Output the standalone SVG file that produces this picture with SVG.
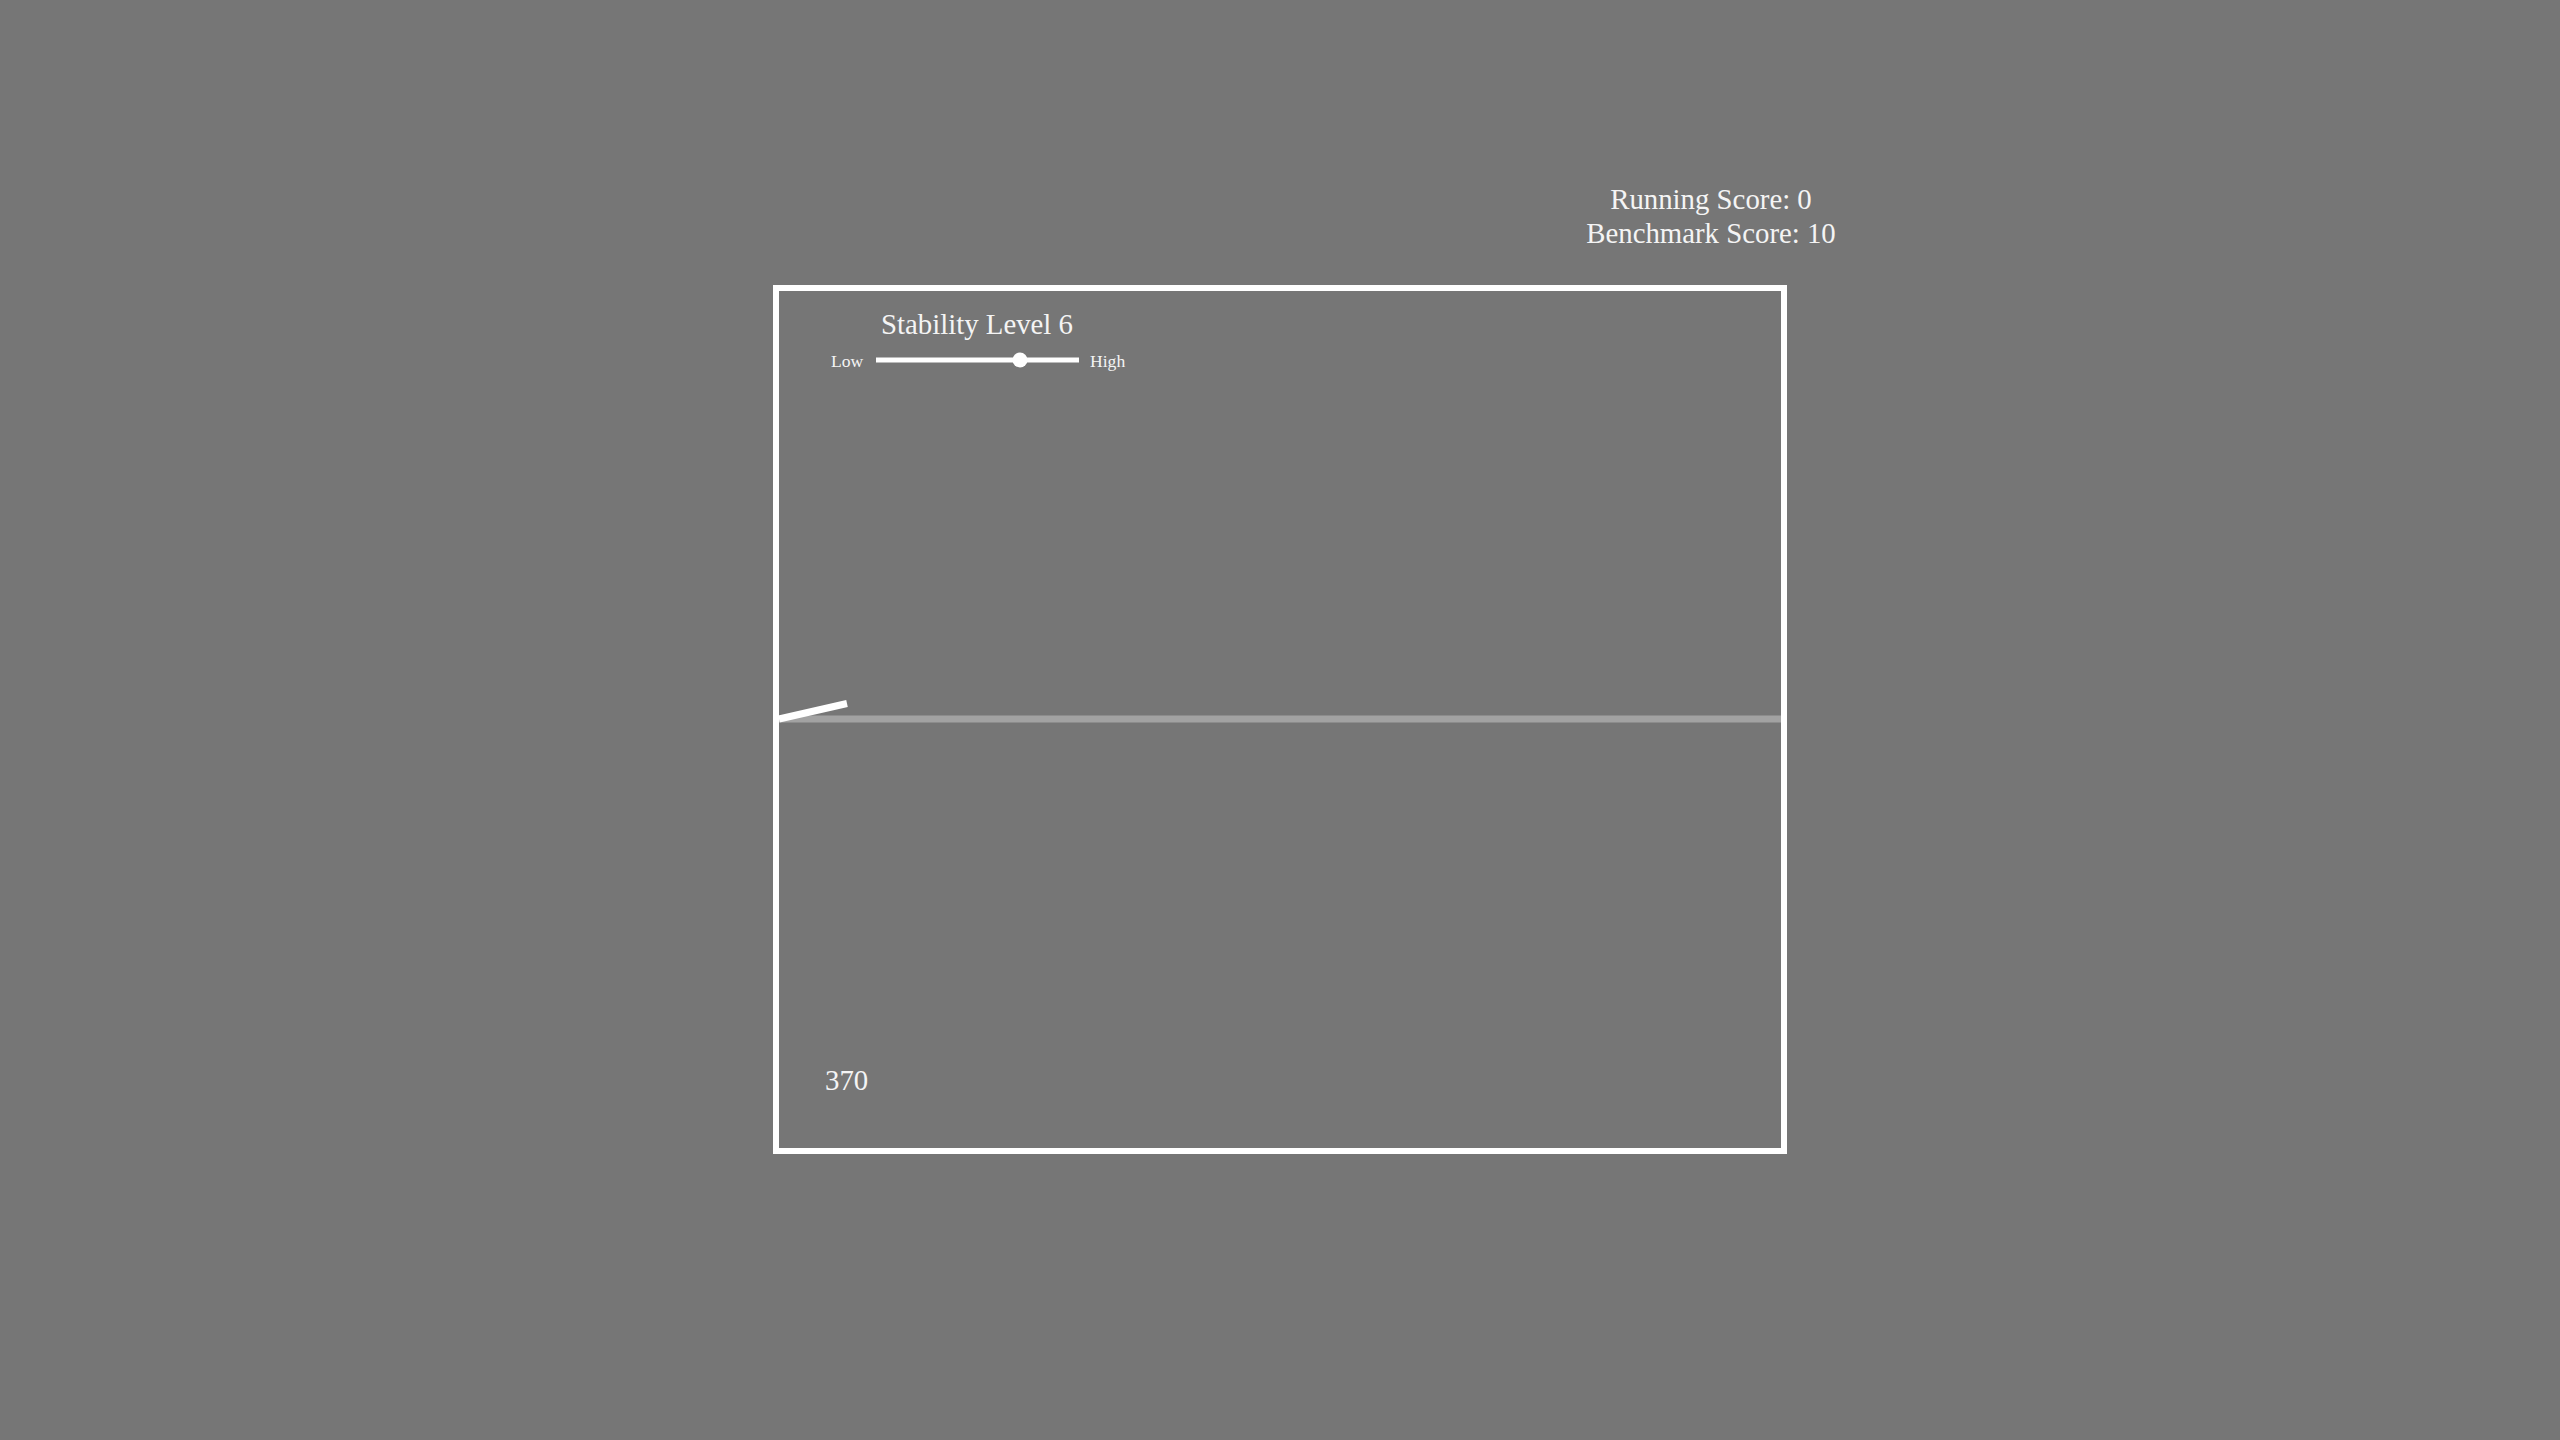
<svg xmlns="http://www.w3.org/2000/svg" width="2560" height="1440" viewBox="0 0 2560 1440">
<style>
.t{font-family:"Liberation Serif","Times New Roman",serif;fill:#f4f4f4}
</style>
<rect width="2560" height="1440" fill="#767676"/>
<g id="scores">
<text class="t" x="1711" y="208.5" font-size="28.8" text-anchor="middle">Running Score: 0</text>
<text class="t" x="1711" y="242.5" font-size="28.8" text-anchor="middle">Benchmark Score: 10</text>
</g>
<g id="frame">
<rect x="776" y="288" width="1008" height="863" fill="none" stroke="#ffffff" stroke-width="6"/>
</g>
<g id="stability">
<text class="t" x="881" y="333.5" font-size="28.8">Stability Level 6</text>
<text class="t" x="831" y="366.5" font-size="17.6">Low</text>
<text class="t" x="1090" y="366.5" font-size="17.6">High</text>
<line x1="876" y1="360" x2="1079" y2="360" stroke="#ffffff" stroke-width="5"/>
<circle cx="1020" cy="360" r="7.5" fill="#ffffff"/>
</g>
<g id="track">
<line x1="779" y1="719" x2="1781" y2="719" stroke="#a2a2a2" stroke-width="7"/>
</g>
<g id="pole">
<line x1="779" y1="719" x2="847" y2="703.5" stroke="#ffffff" stroke-width="7"/>
</g>
<g id="counter">
<text class="t" x="825" y="1089.5" font-size="28.8">370</text>
</g>
</svg>
